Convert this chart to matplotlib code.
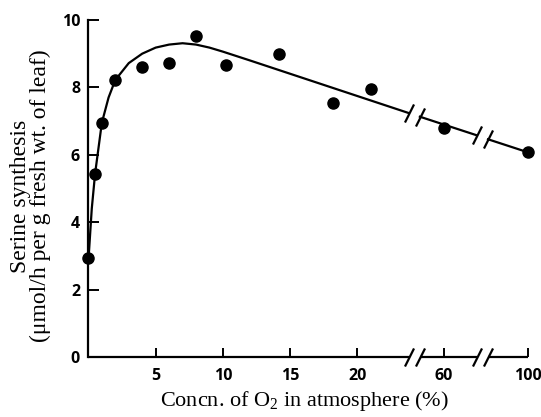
import numpy as np
import matplotlib
matplotlib.use('Agg')
import matplotlib.pyplot as plt

# measured points: O2 (%) vs serine synthesis
o2 = [0, 0.5, 1, 2, 4, 6, 8, 10.2, 14.2, 18.2, 21, 60, 100]
serine = [2.95, 5.43, 6.95, 8.22, 8.6, 8.71, 9.52, 8.67, 9.0, 7.53, 7.96, 6.79, 6.07]

# fitted curve, split at the axis breaks
curve_a_x = [0, 0.25, 0.5, 1, 1.5, 2, 3, 4, 5, 6, 7, 8, 9, 10, 11, 12, 23.8]
curve_a_y = [2.85, 4.4, 5.45, 6.95, 7.7, 8.22, 8.72, 9.0, 9.18, 9.27, 9.31, 9.27, 9.18, 9.06, 8.93, 8.8, 7.24]
curve_b_x = [33.6, 60, 75.6]
curve_b_y = [7.13, 6.9, 6.58]
curve_c_x = [81, 100]
curve_c_y = [6.46, 6.07]

xticks = [5, 10, 15, 20, 60, 100]
xticklabels = ['5', '10', '15', '20', '60', '100']
yticks = [0, 2, 4, 6, 8, 10]

# broken x axis: real % -> position on the axis
X_REAL = [0, 24, 60, 100]
X_POS = [0, 24, 26.4, 32.7]
BREAKS = [(23.8, 33.6), (75.6, 81)]


def fwd(x):
    return np.interp(x, X_REAL, X_POS)


def inv(u):
    return np.interp(u, X_POS, X_REAL)


fig = plt.figure(figsize=(5.41, 4.17), dpi=100)
ax = fig.add_axes([0.1634, 0.1439, 0.8131, 0.8082])
ax.set_xscale('function', functions=(fwd, inv))
ax.set_xlim(0, 100)
ax.set_ylim(0, 10)

for s in ['top', 'right', 'bottom']:
    ax.spines[s].set_visible(False)
ax.spines['left'].set_linewidth(1.6)

slash = [(-0.5, -1), (0.5, 1)]
lw = 1.6

# x axis drawn in pieces
edges = [0] + [v for b in BREAKS for v in b] + [100]
for i in range(0, len(edges), 2):
    ax.plot([edges[i], edges[i + 1]], [0, 0], color='k', lw=lw, clip_on=False,
            solid_capstyle='butt')
break_x = [v for b in BREAKS for v in b]
ax.plot(break_x, [0] * len(break_x), ls='none', marker=slash, ms=13, mew=1.6,
        color='k', clip_on=False)

# curve
for cx, cy in [(curve_a_x, curve_a_y), (curve_b_x, curve_b_y), (curve_c_x, curve_c_y)]:
    ax.plot(cx, cy, color='k', lw=lw, clip_on=False)
slash_y = [curve_a_y[-1], curve_b_y[0], curve_b_y[-1], curve_c_y[0]]
ax.plot(break_x, slash_y, ls='none', marker=slash, ms=13, mew=1.6,
        color='k', clip_on=False)

ax.plot(o2, serine, 'o', color='k', ms=8, clip_on=False, zorder=5)

ax.set_xticks(xticks)
ax.set_xticklabels(xticklabels)
ax.set_yticks(yticks)
ax.minorticks_off()
ax.tick_params(axis='x', direction='in', length=6.5, width=1.4, pad=8)
ax.tick_params(axis='y', direction='in', length=8, width=1.4, pad=6)
for t in ax.get_xticklabels() + ax.get_yticklabels():
    t.set_fontfamily('Open Sans')
    t.set_fontweight('bold')
    t.set_fontsize(11.5)

plt.rcParams['mathtext.fontset'] = 'stix'
ax.set_xlabel(r'Concn. of O$_{\mathregular{2}}$ in atmosphere (%)',
              fontfamily='Liberation Serif', fontsize=16)
ax.xaxis.set_label_coords(0.492, -0.095)
ax.set_ylabel('Serine synthesis\n(\u03bcmol/h per g fresh wt. of leaf)',
              fontfamily='Liberation Serif', fontsize=17, linespacing=0.95)
ax.yaxis.set_label_coords(-0.085, 0.478)

fig.savefig('out.png', dpi=100)
